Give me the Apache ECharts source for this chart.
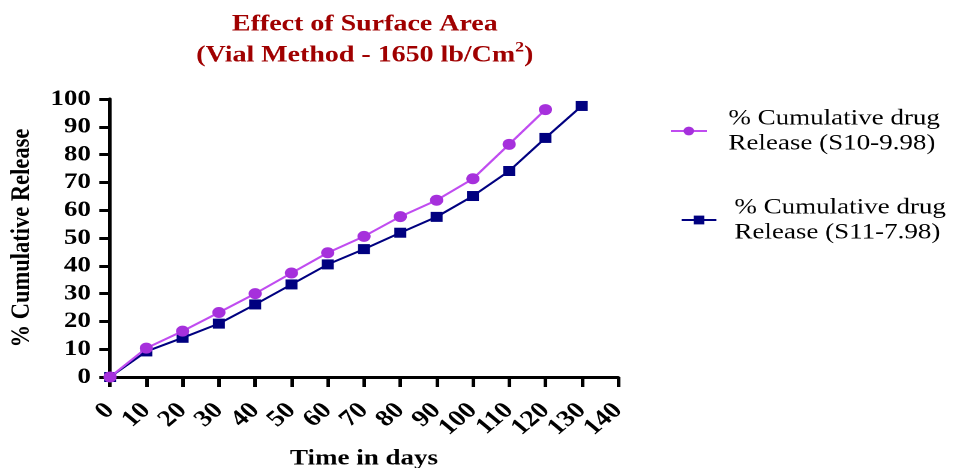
<!DOCTYPE html>
<html><head><meta charset="utf-8">
<script src="https://cdn.jsdelivr.net/npm/echarts@6/dist/echarts.min.js"></script>
<style>
html,body{margin:0;padding:0;background:#fff;overflow:hidden;width:955px;height:468px}
#c{width:796px;height:468px;transform:scaleX(1.2);transform-origin:0 0}
</style>
</head><body><div id="c"></div>
<script>
// Data
const days = [0,10,20,30,40,50,60,70,80,90,100,110,120,130];
const s10 = [0,10.4,16.5,23.2,30.0,37.4,44.7,50.6,57.7,63.6,71.3,83.7,96.2];
const s11 = [0,9.2,14.1,19.2,26.1,33.3,40.5,46.0,51.9,57.6,65.1,74.1,86.0,97.5];
const s10Name = '% Cumulative drug\nRelease (S10-9.98)';
const s11Name = '% Cumulative drug\nRelease (S11-7.98)';
const xTicks = {min:0, max:140, interval:10};
const yTicks = {min:0, max:100, interval:10};

const F = '"Liberation Serif","Times New Roman",serif';
const FS = 22.5;
const xLabelBase = {rotate:45,fontFamily:F,fontWeight:'bold',fontSize:23,color:'#000',margin:30,hideOverlap:false};
const chart = echarts.init(document.getElementById('c'), null, {devicePixelRatio:2});
chart.setOption({
  animation:false,
  title:{
    text:'{a|Effect of Surface Area}\n{a|(Vial Method - 1650 lb/Cm}{s|2}{a|)}',
    left:299, textAlign:'center', top:4,
    textStyle:{rich:{
      a:{fontFamily:F,fontWeight:'bold',fontSize:23.3,color:'#a00000',lineHeight:31},
      s:{fontFamily:F,fontWeight:'bold',fontSize:15,color:'#a00000',verticalAlign:'top',lineHeight:31,padding:[0,0,14,0]}
    }}
  },
  legend:[
    {data:[s10Name], orient:'vertical', left:553, top:101, itemWidth:30, itemHeight:11,
     textStyle:{fontFamily:F,fontSize:FS,color:'#000',lineHeight:25,padding:[0,0,0,13]}},
    {data:[s11Name], orient:'vertical', left:562, top:190, itemWidth:29, itemHeight:11,
     textStyle:{fontFamily:F,fontSize:FS,color:'#000',lineHeight:25,padding:[0,0,0,10]}}
  ],
  grid:{left:91.7,right:281,top:99,bottom:91,outerBoundsMode:'none',containLabel:false},
  xAxis:[{
    type:'value', min:xTicks.min, max:xTicks.max, interval:xTicks.interval,
    name:'Time in days', nameLocation:'middle', nameGap:70,
    nameTextStyle:{fontFamily:F,fontWeight:'bold',fontSize:FS,color:'#000'},
    axisLine:{onZero:false,lineStyle:{color:'#000',width:3}},
    axisTick:{show:true,length:10,lineStyle:{color:'#000',width:3}},
    axisLabel:Object.assign({},xLabelBase,{showMinLabel:true,showMaxLabel:true,
      formatter:v=>(Math.round(v/xTicks.interval)%2===0?String(v):'')}),
    splitLine:{show:false}
  },{
    type:'value', min:xTicks.min, max:xTicks.max, interval:xTicks.interval,
    position:'bottom', gridIndex:0,
    axisLine:{show:false,onZero:false}, axisTick:{show:false},
    axisLabel:Object.assign({},xLabelBase,{showMinLabel:false,showMaxLabel:false,
      formatter:v=>(Math.round(v/xTicks.interval)%2===1?String(v):'')}),
    splitLine:{show:false}
  }],
  yAxis:{
    type:'value', min:yTicks.min, max:yTicks.max, interval:yTicks.interval,
    name:'% Cumulative Release', nameLocation:'middle', nameGap:62,
    nameTextStyle:{fontFamily:F,fontWeight:'bold',fontSize:FS,color:'#000'},
    axisLine:{show:true,onZero:false,lineStyle:{color:'#000',width:3}},
    axisTick:{show:true,length:9,lineStyle:{color:'#000',width:3}},
    axisLabel:{fontFamily:F,fontWeight:'bold',fontSize:FS,color:'#000',margin:16,
               showMinLabel:true,showMaxLabel:true,hideOverlap:false},
    splitLine:{show:false}
  },
  series:[
    {name:s10Name,type:'line',xAxisIndex:0,data:s10.map((v,i)=>[days[i],v]),
     symbol:'circle',symbolSize:11,
     lineStyle:{color:'#c04cf0',width:2},
     itemStyle:{color:'#a630dc'}, z:3},
    {name:s11Name,type:'line',xAxisIndex:0,data:s11.map((v,i)=>[days[i],v]),
     symbol:'rect',symbolSize:10,
     lineStyle:{color:'#000080',width:2},
     itemStyle:{color:'#000080'}, z:2}
  ]
});
</script></body></html>
